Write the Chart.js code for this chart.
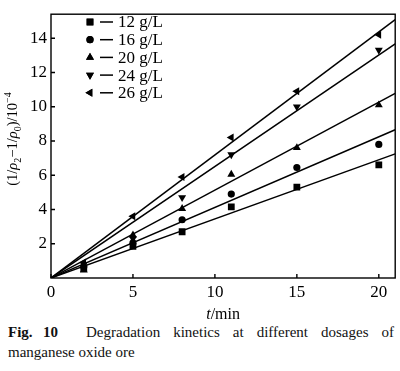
<!DOCTYPE html>
<html>
<head>
<meta charset="utf-8">
<script src="https://cdn.jsdelivr.net/npm/chart.js@4.4.1/dist/chart.umd.min.js"></script>
<style>
  html, body { margin: 0; padding: 0; background: #fff; }
  #wrap { position: relative; width: 400px; height: 322px; }
  #cap { width: 386px; padding-left: 8px; font-family: "Liberation Serif", "Times New Roman", serif; font-size: 15px; color: #111; line-height: 20px; }
  #cap .l1 { display: flex; white-space: nowrap; }
  #cap .fig { font-weight: bold; width: 35px; }
  #cap .num { font-weight: bold; width: 43px; }
  #cap .rest { flex: 1; text-align: justify; text-align-last: justify; white-space: normal; }
</style>
</head>
<body>
<div id="wrap"><canvas id="c" width="400" height="322"></canvas></div>
<div id="cap">
  <div class="l1"><span class="fig">Fig.</span><span class="num">10</span><span class="rest">Degradation kinetics at different dosages of</span></div>
  <div>manganese oxide ore</div>
</div>
<script>
// ---- data ----
const times = [2, 5, 8, 11, 15, 20];
const seriesLabels = ['12 g/L', '16 g/L', '20 g/L', '24 g/L', '26 g/L'];
const s12 = [0.55, 1.85, 2.7, 4.15, 5.3, 6.6];
const s16 = [0.65, 2.05, 3.4, 4.9, 6.45, 7.8];
const s20 = [0.45, 2.5, 4.05, 6.05, 7.6, 10.1];
const s24 = [0.8, 2.3, 4.7, 7.2, 10.0, 13.3];
const s26 = [0.9, 3.6, 5.9, 8.2, 10.9, 14.2];
// fitted slopes (lines through origin), per series
const fitSlopes = [0.345, 0.412, 0.513, 0.651, 0.718];
const xTicks = [0, 5, 10, 15, 20];
const yTicks = [2, 4, 6, 8, 10, 12, 14];
const xMax = 21, yMax = 15.4;

const allSeries = [s12, s16, s20, s24, s26];
const styles = [
  { pointStyle: 'rect', rotation: 0, radius: 4.8 },
  { pointStyle: 'circle', rotation: 0, radius: 3.6 },
  { pointStyle: 'triangle', rotation: 0, radius: 4.6 },
  { pointStyle: 'triangle', rotation: 180, radius: 4.6 },
  { pointStyle: 'triangle', rotation: -90, radius: 4.6 }
];
const FONT = '"Liberation Serif", "Times New Roman", serif';

const datasets = [];
allSeries.forEach((vals, i) => {
  datasets.push({
    type: 'scatter',
    label: seriesLabels[i],
    data: times.map((t, k) => ({ x: t, y: vals[k] })),
    pointStyle: styles[i].pointStyle,
    rotation: styles[i].rotation,
    pointRadius: styles[i].radius,
    backgroundColor: '#000',
    borderColor: '#000',
    borderWidth: 0,
    showLine: false
  });
});
fitSlopes.forEach((m) => {
  datasets.push({
    type: 'line',
    label: '',
    data: [{ x: 0, y: 0 }, { x: xMax, y: m * xMax }],
    borderColor: '#000',
    borderWidth: 1.5,
    pointRadius: 0,
    fill: false,
    clip: 0
  });
});

function drawRich(ctx, parts, cx, cy) {
  let total = 0;
  parts.forEach(p => { ctx.font = (p.italic ? 'italic ' : '') + p.size + 'px ' + FONT; p.w = ctx.measureText(p.t).width; total += p.w; });
  let x = cx - total / 2;
  ctx.textAlign = 'left';
  ctx.textBaseline = 'alphabetic';
  parts.forEach(p => { ctx.font = (p.italic ? 'italic ' : '') + p.size + 'px ' + FONT; ctx.fillText(p.t, x, cy + (p.dy || 0)); x += p.w; });
}

const decorations = {
  id: 'decorations',
  afterDraw(chart) {
    const { ctx, chartArea: a, scales } = chart;
    ctx.save();
    ctx.strokeStyle = '#000';
    ctx.fillStyle = '#000';
    ctx.lineWidth = 1.4;
    ctx.strokeRect(a.left, a.top, a.right - a.left, a.bottom - a.top);
    ctx.beginPath();
    xTicks.forEach(v => { const px = scales.x.getPixelForValue(v); ctx.moveTo(px, a.bottom); ctx.lineTo(px, a.bottom - 4); });
    yTicks.forEach(v => { const py = scales.y.getPixelForValue(v); ctx.moveTo(a.left, py); ctx.lineTo(a.left + 4, py); });
    ctx.stroke();
    // legend
    ctx.textBaseline = 'middle';
    seriesLabels.forEach((lab, i) => {
      const y = 22 + i * 17.7;
      Chart.helpers.drawPoint(ctx, { pointStyle: styles[i].pointStyle, rotation: styles[i].rotation, radius: styles[i].radius, borderWidth: 0 }, 90, y);
      ctx.fill();
      ctx.beginPath();
      ctx.moveTo(100, y); ctx.lineTo(113, y);
      ctx.lineWidth = 1.5;
      ctx.stroke();
      ctx.font = '17px ' + FONT;
      ctx.textAlign = 'left';
      ctx.textBaseline = 'middle';
      ctx.fillText(lab, 118, y + 1);
    });
    // x title
    drawRich(ctx, [
      { t: 't', italic: true, size: 16 },
      { t: '/min', size: 16 }
    ], (a.left + a.right) / 2, 319);
    // y title (rotated)
    ctx.save();
    ctx.translate(17, 139);
    ctx.rotate(-Math.PI / 2);
    drawRich(ctx, [
      { t: '(1/', size: 14.5 },
      { t: 'ρ', italic: true, size: 14.5 },
      { t: '2', size: 10, dy: 4 },
      { t: '−1/', size: 14.5 },
      { t: 'ρ', italic: true, size: 14.5 },
      { t: '0', size: 10, dy: 4 },
      { t: ')/10', size: 14.5 },
      { t: '−4', size: 10, dy: -6 }
    ], 0, 0);
    ctx.restore();
    ctx.restore();
  }
};

new Chart(document.getElementById('c'), {
  data: { datasets },
  options: {
    responsive: false,
    animation: false,
    layout: { padding: { top: 1, right: 2, left: 0, bottom: 0 } },
    plugins: { legend: { display: false }, tooltip: { enabled: false } },
    scales: {
      x: {
        type: 'linear', min: 0, max: xMax,
        afterBuildTicks: s => { s.ticks = xTicks.map(v => ({ value: v })); },
        afterFit: s => { s.height = 44; },
        grid: { display: false, drawTicks: false },
        border: { display: false },
        ticks: { color: '#000', font: { family: FONT, size: 17 }, padding: 4, maxRotation: 0 }
      },
      y: {
        type: 'linear', min: 0, max: yMax,
        afterBuildTicks: s => { s.ticks = yTicks.map(v => ({ value: v })); },
        afterFit: s => { s.width = 51; },
        grid: { display: false, drawTicks: false },
        border: { display: false },
        ticks: { color: '#000', font: { family: FONT, size: 17 }, padding: 4 }
      }
    }
  },
  plugins: [decorations]
});
</script>
</body>
</html>
